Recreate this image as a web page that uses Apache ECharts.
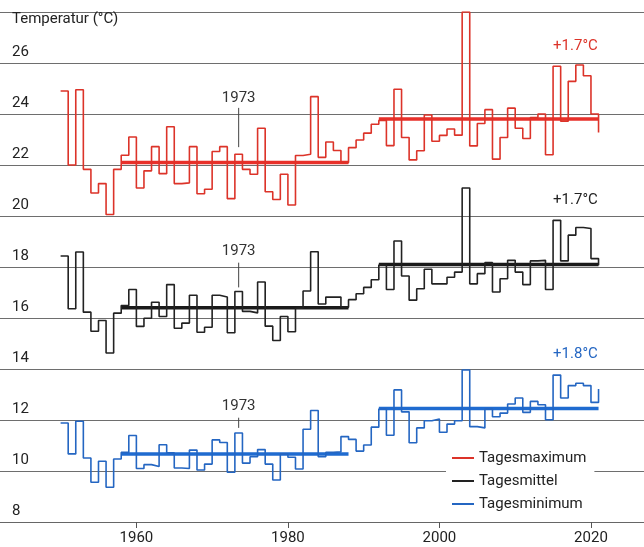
<!DOCTYPE html>
<html>
<head>
<meta charset="utf-8">
<script src="https://cdn.jsdelivr.net/npm/echarts@6/dist/echarts.min.js"></script>
<style>
  html, body { margin: 0; padding: 0; background: #fff; }
  #chart { width: 644px; height: 547px; }
</style>
</head>
<body>
<div id="chart"></div>
<script>
// Jahre (Wert eines Jahres gilt von Jahr bis Jahr+1)
const years = [
  1950, 1951, 1952, 1953, 1954, 1955, 1956, 1957, 1958, 1959,
  1960, 1961, 1962, 1963, 1964, 1965, 1966, 1967, 1968, 1969,
  1970, 1971, 1972, 1973, 1974, 1975, 1976, 1977, 1978, 1979,
  1980, 1981, 1982, 1983, 1984, 1985, 1986, 1987, 1988, 1989,
  1990, 1991, 1992, 1993, 1994, 1995, 1996, 1997, 1998, 1999,
  2000, 2001, 2002, 2003, 2004, 2005, 2006, 2007, 2008, 2009,
  2010, 2011, 2012, 2013, 2014, 2015, 2016, 2017, 2018, 2019,
  2020, 2021
];

const tagesmaximum = [
  24.9, 22.0, 24.95, 21.83, 20.9, 21.27, 20.06, 21.83, 22.38, 23.1,
  21.1, 21.77, 22.72, 21.66, 23.5, 21.27, 21.3, 22.72, 20.87, 21.05,
  22.53, 22.72, 20.68, 22.42, 21.83, 21.64, 23.44, 20.95, 20.65, 21.64,
  20.43, 22.37, 22.42, 24.68, 22.3, 22.9, 22.57, 22.1, 22.68, 22.98,
  23.25, 23.6, 23.75, 22.76, 24.97, 23.08, 22.2, 22.56, 23.96, 22.93,
  23.16, 23.41, 23.17, 28.0, 22.75, 23.63, 24.17, 22.23, 23.08, 24.23,
  23.44, 23.04, 23.86, 24.0, 22.4, 25.87, 23.72, 25.28, 25.92, 25.5,
  24.0, 23.27
];

const tagesmittel = [
  18.43, 16.36, 18.59, 16.23, 15.48, 15.9, 14.63, 16.19, 16.49, 17.12,
  15.67, 15.99, 16.62, 16.06, 17.31, 15.6, 15.8, 16.89, 15.44, 15.64,
  16.89, 16.82, 15.42, 17.04, 16.26, 16.2, 17.41, 15.68, 15.12, 16.06,
  15.46, 16.38, 17.06, 18.6, 16.55, 16.82, 16.82, 16.42, 16.72, 16.95,
  17.2, 17.5, 18.08, 17.12, 19.02, 17.65, 16.7, 17.15, 17.91, 17.34,
  17.34, 17.6, 17.8, 21.1, 17.34, 17.74, 18.17, 17.02, 17.54, 18.26,
  17.8, 17.31, 18.24, 18.26, 17.12, 19.83, 18.24, 19.25, 19.55, 19.51,
  18.33, 18.07
];

const tagesminimum = [
  11.88, 10.67, 11.95, 10.51, 9.56, 10.38, 9.36, 10.47, 10.73, 11.39,
  10.1, 10.25, 10.18, 11.03, 10.71, 10.12, 10.1, 10.82, 10.04, 10.27,
  11.22, 11.12, 9.95, 11.49, 10.31, 10.56, 10.84, 10.27, 9.65, 10.67,
  10.54, 10.08, 11.64, 12.37, 10.56, 10.73, 10.75, 11.35, 11.24, 10.78,
  11.02, 11.72, 12.43, 11.4, 13.18, 12.32, 11.11, 11.69, 11.97, 12.04,
  11.52, 11.84, 11.97, 13.96, 11.74, 11.69, 12.43, 12.13, 12.27, 12.63,
  12.86, 12.3, 12.73, 12.6, 12.01, 13.76, 12.86, 13.35, 13.44, 13.35,
  12.69, 13.22
];

// Mittelwerte der beiden Perioden
const periods = [[1958, 1988], [1992, 2021]];
const meanMax = [22.1, 23.8];
const meanMittel = [16.4, 18.1];
const meanMin = [10.67, 12.45];

const diffLabels = ['+1.7°C', '+1.7°C', '+1.8°C'];
const xTicks = [1960, 1980, 2000, 2020];

const RED = '#dc3329';
const BLACK = '#222222';
const BLUE = '#2466c2';
const FONT = '"Roboto", "Liberation Sans", sans-serif';
const FS = 15;

const pairs = (vals) => years.map((y, i) => [y, vals[i]]);
const meanLine = (means) => {
  // zwei Segmente, mit null getrennt
  const out = [];
  periods.forEach((p, i) => {
    out.push([p[0], means[i]], [p[1], means[i]]);
    if (i < periods.length - 1) out.push([p[1], null]);
  });
  return out;
};

const chart = echarts.init(document.getElementById('chart'));

const stepSeries = (name, vals, color) => ({
  name: name,
  type: 'line',
  step: 'end',
  showSymbol: false,
  data: pairs(vals),
  lineStyle: { color: color, width: 1.6 },
  itemStyle: { color: color },
  z: 3
});

const meanSeries = (name, means, color) => ({
  name: name,
  type: 'line',
  showSymbol: false,
  connectNulls: false,
  data: meanLine(means),
  lineStyle: { color: color, width: 3.5 },
  z: 2
});

chart.setOption({
  animation: false,
  textStyle: { fontFamily: FONT },
  grid: { left: 0, right: 0, top: 12, bottom: 25 },
  legend: {
    data: ['Tagesmaximum', 'Tagesmittel', 'Tagesminimum'],
    orient: 'vertical',
    left: 446,
    top: 447,
    icon: 'rect',
    itemWidth: 22,
    itemHeight: 2,
    itemGap: 5,
    padding: [2, 8, 2, 6],
    backgroundColor: '#ffffff',
    textStyle: { fontSize: FS, color: '#222', fontFamily: FONT, lineHeight: 18 }
  },
  xAxis: {
    type: 'value',
    min: 1942,
    max: 2027,
    splitLine: { show: false },
    axisLine: { show: true, lineStyle: { color: '#666', width: 1 } },
    axisTick: {
      show: true,
      customValues: xTicks,
      length: 6,
      lineStyle: { color: '#555' }
    },
    axisLabel: {
      customValues: xTicks,
      margin: 9,
      fontSize: FS,
      color: '#222',
      fontFamily: FONT,
      formatter: (v) => String(v)
    }
  },
  yAxis: {
    type: 'value',
    min: 8,
    max: 28,
    interval: 2,
    axisLine: { show: false },
    axisTick: { show: false },
    splitLine: { lineStyle: { color: '#6e6e6e', width: 1 } },
    axisLabel: {
      inside: true,
      margin: 12,
      fontSize: FS,
      color: '#222',
      fontFamily: FONT,
      verticalAlign: 'bottom',
      padding: [0, 0, 3, 0],
      formatter: (v) => (v >= 28 ? '' : String(v))
    }
  },
  series: [
    meanSeries('mMax', meanMax, '#e8302a'),
    meanSeries('mMittel', meanMittel, '#1a1a1a'),
    meanSeries('mMin', meanMin, '#1f6bd0'),
    stepSeries('Tagesmaximum', tagesmaximum, RED),
    stepSeries('Tagesmittel', tagesmittel, BLACK),
    stepSeries('Tagesminimum', tagesminimum, BLUE)
  ]
});

// Beschriftungen über convertToPixel
const px = (x, y) => chart.convertToPixel({ gridIndex: 0 }, [x, y]);

// "1973"-Hinweise: [Textwert, Linie oben, Linie unten]
const notes1973 = [
  [24.63, 24.24, 22.7],
  [18.6, 18.17, 17.2],
  [12.52, 12.09, 11.69]
];
const diffPos = [26.67, 20.63, 14.59];
const diffColors = [RED, BLACK, BLUE];

const graphics = [];
notes1973.forEach((n) => {
  const t = px(1973.5, n[0]);
  const a = px(1973.5, n[1]);
  const b = px(1973.5, n[2]);
  graphics.push({
    type: 'text',
    x: t[0], y: t[1],
    style: {
      text: '1973', fill: '#333', fontSize: FS, fontFamily: FONT,
      align: 'center', verticalAlign: 'middle'
    },
    z: 10
  });
  graphics.push({
    type: 'line',
    shape: { x1: a[0], y1: a[1], x2: b[0], y2: b[1] },
    style: { stroke: '#444', lineWidth: 1 },
    z: 10
  });
});
diffPos.forEach((v, i) => {
  const p = px(2020.9, v);
  graphics.push({
    type: 'text',
    x: p[0], y: p[1],
    style: {
      text: diffLabels[i], fill: diffColors[i], fontSize: FS, fontFamily: FONT,
      align: 'right', verticalAlign: 'middle'
    },
    z: 10
  });
});
graphics.push({
  type: 'text',
  left: 12, top: 12,
  style: { text: 'Temperatur (°C)', fill: '#222', fontSize: FS, fontFamily: FONT },
  z: 10
});

chart.setOption({ graphic: graphics });
</script>
</body>
</html>
